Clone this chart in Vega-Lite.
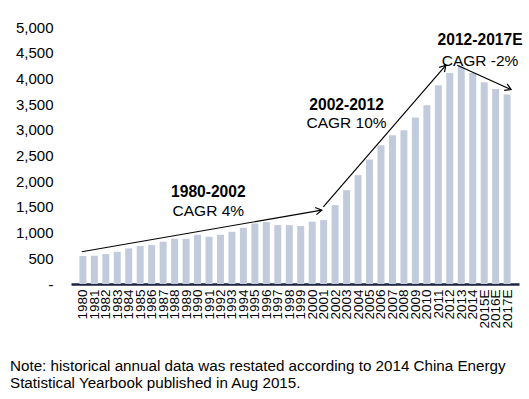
{
  "$schema": "https://vega.github.io/schema/vega-lite/v6.json",
  "width": 448,
  "height": 257,
  "autosize": "none",
  "padding": {"left": 71, "top": 27, "right": 10, "bottom": 115},
  "background": "white",
  "config": {"view": {"stroke": null}, "font": "Liberation Sans", "axis": {"labelOverlap": false}},
  "title": {
    "text": ["Note: historical annual data was restated according to 2014 China Energy", "Statistical Yearbook published in Aug 2015."],
    "orient": "bottom",
    "anchor": "start",
    "frame": "group",
    "dx": -61,
    "offset": 31,
    "font": "Liberation Sans",
    "fontSize": 15.2,
    "fontWeight": "normal",
    "lineHeight": 17,
    "color": "#000000"
  },
  "datasets": {
    "bars": [
      {"x": 1980, "y": 545},
      {"x": 1981, "y": 550},
      {"x": 1982, "y": 583},
      {"x": 1983, "y": 628},
      {"x": 1984, "y": 693},
      {"x": 1985, "y": 738},
      {"x": 1986, "y": 758},
      {"x": 1987, "y": 822},
      {"x": 1988, "y": 880},
      {"x": 1989, "y": 880},
      {"x": 1990, "y": 958},
      {"x": 1991, "y": 919},
      {"x": 1992, "y": 958},
      {"x": 1993, "y": 1016},
      {"x": 1994, "y": 1094},
      {"x": 1995, "y": 1179},
      {"x": 1996, "y": 1205},
      {"x": 1997, "y": 1146},
      {"x": 1998, "y": 1146},
      {"x": 1999, "y": 1127},
      {"x": 2000, "y": 1211},
      {"x": 2001, "y": 1244},
      {"x": 2002, "y": 1535},
      {"x": 2003, "y": 1826},
      {"x": 2004, "y": 2118},
      {"x": 2005, "y": 2422},
      {"x": 2006, "y": 2701},
      {"x": 2007, "y": 2895},
      {"x": 2008, "y": 2992},
      {"x": 2009, "y": 3239},
      {"x": 2010, "y": 3478},
      {"x": 2011, "y": 3867},
      {"x": 2012, "y": 4106},
      {"x": 2013, "y": 4236},
      {"x": 2014, "y": 4106},
      {"x": 2015, "y": 3925},
      {"x": 2016, "y": 3795},
      {"x": 2017, "y": 3686}
    ],
    "arrows": [
      {"x": 1979.9, "y": 628, "x2": 2000.83, "y2": 1438},
      {"x": 2000.97, "y": 1502, "x2": 2011.65, "y2": 4255},
      {"x": 2012.65, "y": 4255, "x2": 2017.35, "y2": 3783}
    ],
    "heads": [
      {"x": 2000.83, "y": 1438, "angle": -9.7},
      {"x": 2011.65, "y": 4255, "angle": -48.6},
      {"x": 2017.35, "y": 3783, "angle": 23.8}
    ],
    "boldNotes": [
      {"x": 1990.94, "y": 1794, "text": "1980-2002"},
      {"x": 2003.0, "y": 3478, "text": "2002-2012"},
      {"x": 2014.64, "y": 4741, "text": "2012-2017E"}
    ],
    "plainNotes": [
      {"x": 1990.94, "y": 1418, "text": "CAGR 4%"},
      {"x": 2003.0, "y": 3138, "text": "CAGR 10%"},
      {"x": 2014.64, "y": 4339, "text": "CAGR -2%"}
    ]
  },
  "encoding": {
    "x": {
      "field": "x",
      "type": "quantitative",
      "scale": {"domain": [1979.4, 2017.6], "nice": false, "zero": false},
      "axis": {
        "title": null,
        "values": [1980,1981,1982,1983,1984,1985,1986,1987,1988,1989,1990,1991,1992,1993,1994,1995,1996,1997,1998,1999,2000,2001,2002,2003,2004,2005,2006,2007,2008,2009,2010,2011,2012,2013,2014,2015,2016,2017],
        "labelExpr": "datum.value >= 2015 ? datum.value + 'E' : '' + datum.value",
        "labelAngle": -90,
        "labelFont": "Liberation Sans",
        "labelFontSize": 13.5,
        "labelColor": "#000000",
        "labelPadding": 5,
        "labelOverlap": false,
        "labelFlush": false,
        "ticks": false,
        "grid": false,
        "domainColor": "#1c2541",
        "domainWidth": 2.5
      }
    },
    "y": {
      "field": "y",
      "type": "quantitative",
      "scale": {"domain": [0, 5000], "nice": false},
      "axis": {
        "title": null,
        "values": [0, 500, 1000, 1500, 2000, 2500, 3000, 3500, 4000, 4500, 5000],
        "labelExpr": "datum.value == 0 ? '-      ' : format(datum.value, ',')",
        "labelFont": "Liberation Sans",
        "labelFontSize": 15,
        "labelColor": "#000000",
        "labelPadding": 18,
        "labelOverlap": false,
        "labelFlush": false,
        "ticks": false,
        "grid": false,
        "domain": false
      }
    }
  },
  "layer": [
    {
      "data": {"name": "bars"},
      "mark": {"type": "bar", "width": 7, "color": "#c2cbdc"}
    },
    {
      "data": {"name": "arrows"},
      "mark": {"type": "rule", "color": "#000000", "strokeWidth": 1.2},
      "encoding": {
        "x2": {"field": "x2"},
        "y2": {"field": "y2"}
      }
    },
    {
      "data": {"name": "heads"},
      "mark": {"type": "point", "shape": "M-1,-0.6L0,0L-1,0.6", "filled": false, "stroke": "#000000", "strokeWidth": 1.2, "size": 144, "opacity": 1},
      "encoding": {
        "angle": {"field": "angle", "type": "quantitative", "scale": null}
      }
    },
    {
      "data": {"name": "boldNotes"},
      "mark": {"type": "text", "font": "Liberation Sans", "fontSize": 15.6, "fontWeight": "bold", "color": "#000000", "baseline": "middle", "align": "center"},
      "encoding": {
        "text": {"field": "text"}
      }
    },
    {
      "data": {"name": "plainNotes"},
      "mark": {"type": "text", "font": "Liberation Sans", "fontSize": 15.5, "fontWeight": "normal", "color": "#000000", "baseline": "middle", "align": "center"},
      "encoding": {
        "text": {"field": "text"}
      }
    }
  ]
}
